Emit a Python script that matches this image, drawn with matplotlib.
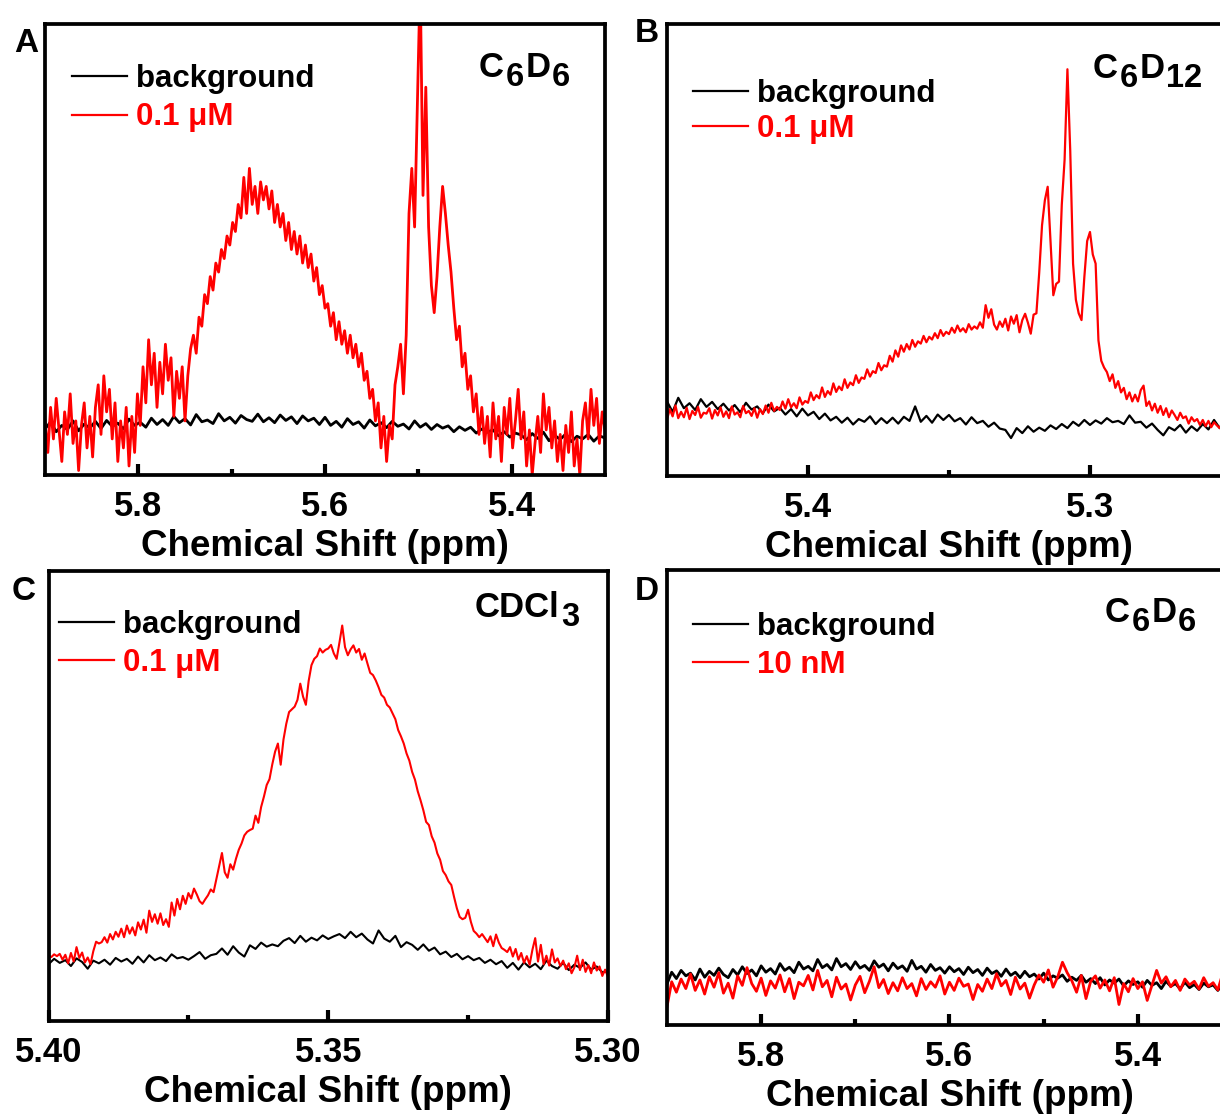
import numpy as np
import matplotlib
matplotlib.use("Agg")
import matplotlib.pyplot as plt
from matplotlib.lines import Line2D

plt.rcParams["font.family"] = ["Liberation Sans", "DejaVu Sans"]
plt.rcParams["font.weight"] = "bold"

# --- Data: intensity in arbitrary units (0 = bottom of frame, 100 = top) ---
# Panel A, C6D6, 0.1 uM (5.90 -> 5.30 ppm)
A_RED = [12, 5, 15, 8, 17, 10, 3, 14, 9, 18, 7, 12, 1, 11, 16, 6, 13, 4, 15, 20,
         9, 22, 14, 19, 8, 16, 3, 12, 6, 15, 2, 13, 5, 18, 11, 24, 16, 30, 20, 27,
         15, 25, 18, 29, 21, 26, 13, 23, 17, 24, 12, 22, 28, 31, 27, 35, 33, 40, 38, 44,
         41, 47, 45, 50, 48, 53, 51, 56, 54, 60, 57, 66, 58, 68, 60, 64, 58, 65, 61, 64,
         59, 63, 56, 60, 55, 58, 52, 56, 50, 54, 49, 53, 47, 51, 46, 49, 43, 46, 40, 42,
         37, 38, 33, 36, 30, 34, 29, 32, 27, 31, 26, 29, 24, 27, 21, 23, 17, 19, 12, 16,
         6, 13, 3, 11, 8, 20, 24, 29, 18, 31, 58, 68, 55, 83, 110, 62, 86, 55, 42, 36,
         44, 55, 64, 58, 51, 45, 37, 30, 33, 24, 27, 19, 22, 14, 18, 9, 15, 7, 13, 4,
         16, 8, 13, 3, 15, 9, 17, 6, 12, 19, 8, 14, 2, 10, 0, 7, 13, 5, 18, 10,
         15, 6, 12, 3, 9, 1, 11, 5, 14, 2, 8, 0, 12, 16, 8, 19, 11, 17, 7, 14, 10]
A_BLACK = [10.2, 11.8, 9.6, 11.0, 10.1, 12.0, 9.8, 11.3, 10.4, 11.9,
           10.3, 12.1, 10.8, 11.5, 10.2, 12.4, 11.0, 11.7, 10.6, 12.6,
           11.2, 12.3, 11.0, 13.0, 11.6, 12.5, 11.1, 13.4, 11.8, 12.2,
           11.4, 13.6, 12.0, 12.8, 11.5, 13.2, 12.3, 11.9, 13.5, 11.8,
           12.7, 11.6, 13.3, 12.1, 12.9, 11.4, 13.1, 12.0, 12.6, 11.2,
           12.8, 11.0, 11.9, 10.6, 12.5, 11.2, 11.8, 10.4, 12.2, 10.9,
           11.6, 10.5, 11.9, 10.8, 11.3, 10.2, 12.0, 10.6, 11.4, 10.1,
           11.2, 10.4, 10.9, 9.6, 10.7, 9.9, 10.6, 9.3, 10.2, 9.5,
           10.0, 8.7, 9.6, 8.4, 9.3, 8.9, 7.8, 9.2, 8.1, 9.5,
           7.6, 8.8, 7.9, 9.1, 7.4, 8.6, 8.0, 9.0, 7.5, 8.7, 8.2]

# Panel B, C6D12, 0.1 uM (5.45 -> 5.25 ppm)
B_RED = [12.5, 14.8, 13.2, 15.6, 12.8, 14.2, 13.0, 15.1, 12.6, 14.4,
         13.5, 15.3, 12.9, 14.0, 13.8, 15.0, 12.7, 14.6, 13.4, 15.2,
         13.1, 14.3, 12.8, 15.4, 13.6, 14.1, 13.0, 15.5, 13.9, 14.4,
         13.3, 15.0, 12.9, 14.8, 13.7, 15.6, 14.0, 16.2, 14.4, 15.3,
         14.6, 16.5, 14.9, 17.0, 15.2, 16.1, 15.0, 17.4, 15.8, 16.6,
         16.2, 18.5, 16.8, 17.9, 17.2, 19.6, 17.5, 18.8, 18.0, 20.5,
         18.6, 19.8, 19.0, 21.4, 19.5, 20.7, 20.1, 22.3, 20.6, 21.8,
         21.5, 23.6, 22.0, 23.2, 22.8, 25.0, 23.4, 24.5, 24.2, 26.6,
         25.3, 27.8, 26.4, 28.9, 27.5, 29.2, 28.0, 30.1, 28.6, 29.8,
         29.3, 31.0, 29.6, 30.8, 30.2, 31.6, 30.5, 32.3, 31.0, 31.9,
         31.4, 32.8, 31.7, 33.3, 32.0, 32.7, 31.8, 33.6, 32.4, 33.1,
         32.6, 34.0, 32.8, 37.8, 35.0, 36.9, 33.5, 32.4, 34.2, 33.0,
         34.8, 32.2, 35.3, 33.7, 35.6, 31.8, 34.5, 35.9, 33.9, 31.5,
         35.7, 36.0, 45.0, 55.5, 61.0, 64.0, 52.0, 40.0, 42.5, 43.0,
         60.0, 70.0, 90.0, 72.0, 47.0, 39.0, 36.0, 34.5, 44.0, 52.0,
         54.0, 49.0, 47.0, 30.0, 25.5, 24.0, 23.0, 21.0, 22.5, 19.5,
         21.0, 18.5, 19.5, 17.0, 18.5, 16.5, 18.0, 16.5, 19.0, 20.0,
         15.5, 16.5, 14.5, 16.0, 14.0, 15.5, 13.5, 15.0, 13.0, 14.5,
         13.5, 12.4, 14.0, 12.8, 13.2, 11.6, 13.0, 12.1, 12.6, 11.3,
         12.4, 11.0, 12.2, 10.8, 11.9, 11.2, 10.6, 12.0, 10.9, 11.5, 10.8]
B_BLACK = [16.5, 14.2, 17.3, 15.0, 16.1, 14.6, 17.0, 15.3, 16.4, 14.8,
           16.0, 14.5, 15.7, 14.1, 16.2, 14.7, 15.4, 13.9, 15.8, 14.3,
           15.1, 13.6, 14.8, 13.2, 14.9, 13.4, 14.2, 12.6, 13.8, 12.3,
           13.1, 11.8, 12.9, 11.4, 12.6, 12.0, 13.2, 11.5, 12.8, 11.7,
           12.9, 11.6, 13.1, 12.2, 15.4, 12.0, 13.3, 11.8, 13.6, 12.4,
           13.5, 12.1, 12.8, 11.4, 13.0, 11.7, 12.2, 10.9, 11.8, 10.5,
           10.2, 8.4, 10.6, 9.5, 11.0, 9.8, 10.7, 10.0, 11.2, 10.4,
           11.5, 10.6, 12.0, 11.1, 12.4, 11.3, 12.3, 11.6, 12.8, 11.9,
           12.2, 11.5, 13.4, 11.8, 12.0, 10.7, 11.6, 10.2, 9.0, 10.8,
           10.1, 11.3, 9.6, 11.0, 10.0, 11.5, 10.3, 12.4, 10.6, 11.2, 10.4]

# Panel C, CDCl3, 0.1 uM (5.40 -> 5.30 ppm)
C_RED = [14.5, 14.2, 14.8, 14.4, 14.9, 13.6, 14.7, 12.8, 15.1, 13.2,
         16.4, 14.0, 15.2, 13.0, 14.1, 12.6, 15.5, 17.6, 17.2, 17.5,
         18.6, 17.4, 19.3, 18.1, 19.8, 18.7, 20.5, 18.6, 21.2, 19.4,
         20.8, 19.0, 21.9, 20.3, 22.5, 19.6, 24.5, 22.0, 23.7, 21.6,
         23.9, 21.3, 22.6, 20.9, 26.3, 23.4, 27.1, 24.8, 27.8, 26.0,
         28.4, 27.2, 29.4, 28.1, 26.6, 26.0, 27.0, 27.9, 29.2, 28.6,
         31.5, 34.4, 37.3, 33.0, 31.8, 34.8, 33.6, 36.0, 38.0, 39.4,
         41.2, 42.0, 42.4, 42.7, 45.6, 44.0, 47.5, 49.8, 52.4, 53.7,
         57.0, 59.8, 61.6, 56.9, 62.5, 66.0, 68.6, 69.2, 69.8, 71.3,
         74.9, 72.0, 70.2, 75.5, 79.0, 80.4, 81.0, 82.7, 81.8, 82.4,
         82.7, 83.5, 81.6, 80.4, 84.0, 87.8, 83.0, 81.2, 82.5, 83.4,
         81.8, 82.6, 80.2, 81.6, 79.4, 77.3, 76.8, 75.6, 74.1, 72.4,
         71.8, 70.2, 69.6, 68.3, 67.0, 64.6, 63.2, 61.6, 59.4, 57.8,
         55.3, 53.6, 51.0, 49.0, 46.8, 44.2, 43.5, 41.0, 39.6, 37.2,
         35.8, 33.3, 32.4, 31.0, 30.2, 27.5, 25.0, 23.1, 22.6, 22.9,
         24.7, 22.0, 20.0, 19.4, 18.6, 19.3, 18.4, 17.5, 18.8, 16.6,
         19.2, 17.4, 16.2, 15.8, 15.3, 16.4, 14.3, 16.0, 13.6, 15.1,
         12.9, 14.4, 12.5, 15.8, 18.4, 13.2, 16.9, 12.6, 14.5, 12.3,
         15.9, 13.0, 13.9, 12.2, 13.4, 11.5, 12.8, 10.6, 11.9, 14.5,
         11.3, 13.6, 10.9, 12.4, 10.6, 13.0, 11.2, 12.1, 10.0, 11.4, 9.8]
C_BLACK = [12.6, 13.8, 12.9, 13.5, 12.2, 13.9, 13.1, 11.6, 13.4, 12.8,
           13.6, 12.5, 14.0, 13.2, 13.8, 12.7, 14.3, 13.0, 14.6, 13.5,
           14.1, 13.3, 14.8, 13.9, 14.2, 13.6, 14.4, 15.3, 13.8, 14.6,
           14.9, 16.1, 14.7, 16.6, 15.2, 14.3, 16.8, 16.0, 17.4, 16.5,
           17.0, 16.6, 17.8, 18.4, 17.3, 18.9, 17.6, 18.5, 17.9, 19.0,
           18.2, 18.8, 19.3, 18.4, 19.8, 18.6, 19.4, 18.1, 17.2, 20.1,
           18.3, 17.6, 18.9, 16.4, 17.5, 16.9, 15.8, 17.0, 15.6, 16.3,
           14.8, 15.4, 14.2, 14.9, 13.7, 14.4, 13.5, 14.0, 12.9, 13.6,
           12.6, 13.3, 11.8, 12.9, 11.4, 13.0, 11.9, 12.7, 11.5, 13.4,
           12.2, 11.6, 12.9, 11.3, 12.5, 11.8, 13.0, 11.4, 12.1, 10.8, 11.0]

# Panel D, C6D6, 10 nM (5.90 -> 5.30 ppm)
D_RED = [4.0, 9.5, 7.2, 10.1, 8.0, 11.2, 7.6, 9.9, 6.8, 10.6,
         8.3, 11.5, 7.0, 9.2, 5.9, 10.8, 8.7, 12.6, 9.1, 7.4,
         10.3, 6.5, 9.7, 8.1, 11.0, 7.3, 10.2, 5.8, 9.4, 8.6,
         10.9, 7.7, 12.0, 8.4, 9.8, 6.2, 10.5, 7.9, 9.0, 5.5,
         8.8, 10.7, 7.1, 9.6, 12.8, 8.2, 10.0, 6.9, 9.3, 7.5,
         10.4, 8.0, 9.1, 6.4, 10.2, 7.8, 9.5, 8.3, 10.8, 6.8,
         9.4, 7.6, 10.3, 8.5, 9.0, 5.6, 8.9, 7.4, 10.1, 8.0,
         11.3, 8.6, 9.8, 6.7, 10.5, 7.9, 9.2, 5.9, 8.8, 11.0,
         9.4, 12.1, 8.3, 10.6, 13.8, 11.5, 9.7, 7.2, 10.9, 5.8,
         9.6, 10.8, 8.1, 9.9, 7.5, 10.4, 4.5, 9.1, 7.3, 10.2,
         8.0, 9.5, 5.4, 8.7, 12.0, 9.2, 10.6, 8.4, 9.8, 7.6,
         10.1, 8.8, 9.6, 7.9, 10.4, 8.5, 9.3, 7.7, 11.2, 9.0, 10.6]
D_BLACK = [9.0, 11.6, 10.2, 12.0, 10.8, 11.4, 9.9, 12.3, 10.5, 11.8,
           10.9, 12.5, 11.1, 10.4, 12.2, 11.0, 12.8, 11.3, 12.1, 10.8,
           13.0, 11.6, 12.4, 11.2, 13.5, 12.0, 12.7, 11.5, 13.8, 12.3,
           12.9, 11.9, 14.4, 12.6, 13.3, 12.1, 14.6, 12.8, 13.5, 12.2,
           13.9, 12.5, 13.1, 12.0, 14.1, 12.7, 13.4, 11.9, 13.6, 12.4,
           13.0, 11.8, 14.2, 12.3, 12.9, 11.6, 13.3, 12.0, 12.6, 11.4,
           12.8, 11.7, 12.4, 11.1, 12.7, 11.5, 12.2, 10.9, 12.5, 11.3,
           11.9, 10.7, 12.3, 10.9, 11.6, 10.4, 11.8, 10.6, 11.2, 10.1,
           11.4, 9.9, 10.8, 10.3, 11.0, 9.6, 10.5, 9.8, 10.9, 9.4,
           10.2, 9.1, 10.4, 8.8, 9.9, 9.2, 10.1, 8.6, 9.7, 8.9,
           9.5, 8.3, 9.8, 8.7, 9.3, 8.0, 9.6, 8.5, 9.1, 7.9,
           9.4, 8.2, 8.9, 7.8, 9.2, 8.4, 8.8, 7.6, 9.0, 8.1, 8.6]

# ppm span of each recorded trace
A_SPAN = (5.90, 5.30)
B_SPAN = (5.45, 5.25)
C_SPAN = (5.40, 5.30)
D_SPAN = (5.90, 5.30)

A_TICKS, A_TICKLABELS, A_MINOR = [5.8, 5.6, 5.4], ["5.8", "5.6", "5.4"], [5.7, 5.5]
B_TICKS, B_TICKLABELS, B_MINOR = [5.4, 5.3], ["5.4", "5.3"], [5.35]
C_TICKS, C_TICKLABELS, C_MINOR = [5.40, 5.35, 5.30], ["5.40", "5.35", "5.30"], [5.375, 5.325]
D_TICKS, D_TICKLABELS, D_MINOR = [5.8, 5.6, 5.4], ["5.8", "5.6", "5.4"], [5.7, 5.5]

# solvent formulas as (text, is_subscript) pieces
A_SOLVENT = [("C", False), ("6", True), ("D", False), ("6", True)]
B_SOLVENT = [("C", False), ("6", True), ("D", False), ("12", True)]
C_SOLVENT = [("CDCl", False), ("3", True)]
D_SOLVENT = [("C", False), ("6", True), ("D", False), ("6", True)]

RED = "#ff0000"
BLACK = "#000000"
W, H = 1220, 1114


def chem_label(fig, x_px, base_px, parts, size=25, sub_size=23.5, sub_drop=9, gap=1.5):
    """Write a formula with big, dropped subscripts, starting at pixel (x, baseline)."""
    renderer = fig.canvas.get_renderer()
    x = x_px
    for text, is_sub in parts:
        y = base_px + (sub_drop if is_sub else 0)
        t = fig.text(x / W, 1 - y / H, text, fontsize=sub_size if is_sub else size,
                     fontweight="bold", ha="left", va="baseline")
        x += t.get_window_extent(renderer).width + gap


def draw_panel(ax, span, xlim, red, black, ticks, ticklabels, minor,
               sample_label, legend_anchor, spacing, lw=1.6):
    x_black = np.linspace(span[0], span[1], len(black))
    x_red = np.linspace(span[0], span[1], len(red))
    ax.plot(x_black, black, color=BLACK, lw=lw)
    ax.plot(x_red, red, color=RED, lw=lw)

    ax.set_xlim(*xlim)
    ax.set_ylim(0, 100)
    ax.set_yticks([])
    ax.set_xticks(ticks)
    ax.set_xticklabels(ticklabels, fontsize=25, fontweight="bold")
    ax.set_xticks(minor, minor=True)
    ax.tick_params(axis="x", which="major", direction="in", length=8, width=3, pad=11)
    ax.tick_params(axis="x", which="minor", direction="in", length=4.6, width=3)
    for s in ax.spines.values():
        s.set_linewidth(2.7)
    ax.set_xlabel("Chemical Shift (ppm)", fontsize=26.5, fontweight="bold", labelpad=4)

    handles = [Line2D([], [], color=BLACK, lw=1.6), Line2D([], [], color=RED, lw=1.6)]
    ax.legend(handles, ["background", sample_label], loc="upper left",
              bbox_to_anchor=legend_anchor, frameon=False, labelcolor="linecolor",
              handlelength=1.75, handletextpad=0.3, labelspacing=spacing,
              borderpad=0, borderaxespad=0,
              prop={"size": 22.5, "weight": "bold"})


fig = plt.figure(figsize=(12.2, 11.14), dpi=100)
ax_a = fig.add_axes([0.0369, 0.5736, 0.4590, 0.4048])
ax_b = fig.add_axes([0.5467, 0.5727, 0.4623, 0.4057])
ax_c = fig.add_axes([0.0398, 0.0835, 0.4585, 0.4043])
ax_d = fig.add_axes([0.5467, 0.0799, 0.4631, 0.4084])

draw_panel(ax_a, A_SPAN, (5.90, 5.30), A_RED, A_BLACK, A_TICKS, A_TICKLABELS, A_MINOR,
           "0.1 μM", (0.048, 0.912), 0.28, lw=2.0)
draw_panel(ax_b, B_SPAN, (5.45, 5.25), B_RED, B_BLACK, B_TICKS, B_TICKLABELS, B_MINOR,
           "0.1 μM", (0.046, 0.879), 0.17)
draw_panel(ax_c, C_SPAN, (5.40, 5.30), C_RED, C_BLACK, C_TICKS, C_TICKLABELS, C_MINOR,
           "0.1 μM", (0.0186, 0.913), 0.26, lw=1.5)
draw_panel(ax_d, D_SPAN, (5.90, 5.30), D_RED, D_BLACK, D_TICKS, D_TICKLABELS, D_MINOR,
           "10 nM", (0.046, 0.908), 0.27, lw=2.0)

chem_label(fig, 479, 77, A_SOLVENT)
chem_label(fig, 1093, 78, B_SOLVENT)
chem_label(fig, 475, 617, C_SOLVENT)
chem_label(fig, 1105, 622, D_SOLVENT)

# panel letters
for letter, x_px, base_px in [("A", 14, 52), ("B", 635, 42), ("C", 12, 600), ("D", 635, 600)]:
    fig.text(x_px / W, 1 - base_px / H, letter, fontsize=24, fontweight="bold",
             ha="left", va="baseline")

fig.savefig("out.png", dpi=100)
